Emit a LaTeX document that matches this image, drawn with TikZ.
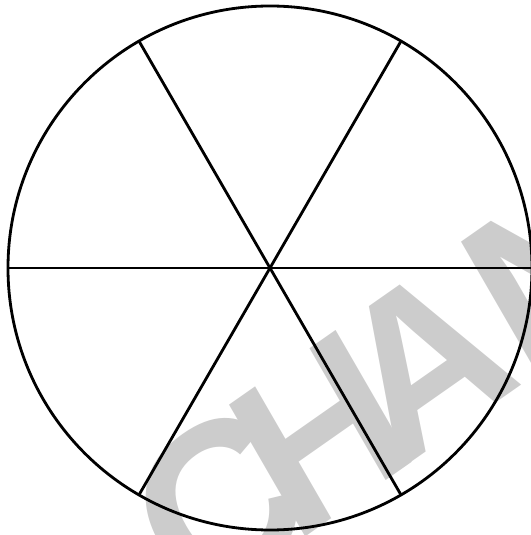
\documentclass[tikz,border=0pt]{standalone}
\usepackage{fontspec}
\newfontfamily\markfont{Liberation Sans}
\usetikzlibrary{calc,positioning}

\begin{document}
\begin{tikzpicture}[
      x=0.02cm,
      y=0.02cm,
      spoke/.style={
        line width=1.6pt,
        black
      },
      wmark/.style={
        inner sep=0pt,
        text=black!20,
        font=\markfont\bfseries\fontsize{126}{126}\selectfont
      }
    ]
      \useasboundingbox (0,0) rectangle (531,535);
      \clip (0,0) rectangle (531,535);

      % watermark first, the lines go over it
      \node[wmark, cm={0.819,0.574,-0.5,0.866,(0,0)}, anchor=base west]
        (wm) at (191,-82) {C\kern-0.16em H\kern-0.16em AN};

      \coordinate (o) at (270,267);
      \foreach \i/\a in {1/0,2/60,3/120,4/180,5/240,6/300}
        \coordinate (p\i) at ($(o)+(\a:262)$);

      \draw[spoke] (o) circle (262);

      \draw[spoke] (p1) -- (p4);
      \draw[spoke] (p2) -- (p5);
      \draw[spoke] (p3) -- (p6);
    \end{tikzpicture}
\end{document}
